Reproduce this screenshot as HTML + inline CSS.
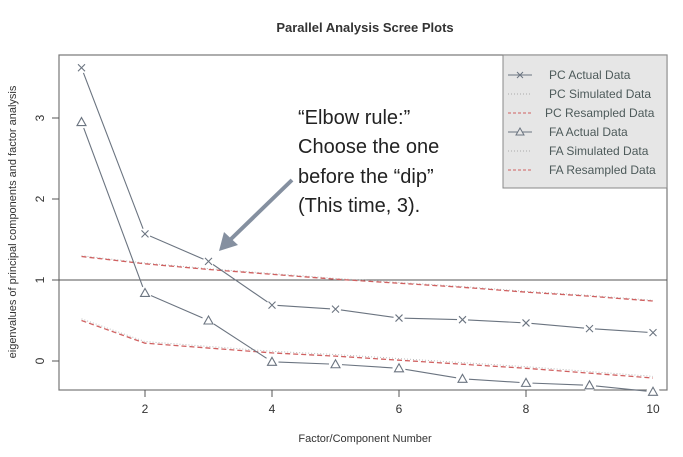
<!DOCTYPE html>
<html><head><meta charset="utf-8"><style>
body{margin:0;background:#fff;}
svg{display:block;font-family:"Liberation Sans",sans-serif;}
</style></head><body>
<svg width="683" height="457">
<text x="365" y="32" text-anchor="middle" font-size="13" font-weight="bold" fill="#333">Parallel Analysis Scree Plots</text>
<rect x="59" y="55" width="608" height="335" fill="none" stroke="#777" stroke-width="1.2"/>
<text transform="translate(16,222) rotate(-90)" text-anchor="middle" font-size="11" fill="#333">eigenvalues of principal components and factor analysis</text>
<text x="365" y="442" text-anchor="middle" font-size="11" fill="#333">Factor/Component Number</text>
<g id="axes"></g>
<g id="marks"></g>
<g>
<rect x="503" y="55" width="164" height="133" fill="#e6e6e6" stroke="#888"/>
<g id="legend-items"></g>
</g>
<g>
<text font-size="20" fill="#222">
<tspan x="298" y="124">“Elbow rule:”</tspan>
<tspan x="298" y="153">Choose the one</tspan>
<tspan x="298" y="183">before the “dip”</tspan>
<tspan x="298" y="212">(This time, 3).</tspan>
</text>
<line x1="292" y1="180" x2="230" y2="240" stroke="#8590a0" stroke-width="4"/>
<polygon points="219,251 224,232 238,245" fill="#8590a0"/>
</g>
</svg>
<script>
const factors=[1,2,3,4,5,6,7,8,9,10];
const pcActual=[3.62,1.57,1.23,0.69,0.64,0.53,0.51,0.47,0.40,0.35];
const faActual=[2.95,0.84,0.50,-0.01,-0.04,-0.09,-0.22,-0.27,-0.30,-0.38];
const pcResampled=[1.29,1.20,1.13,1.07,1.01,0.96,0.91,0.85,0.80,0.74];
const faResampled=[0.50,0.22,0.16,0.10,0.06,0.01,-0.04,-0.09,-0.15,-0.21];
const xTicks=[2,4,6,8,10];
const yTicks=[0,1,2,3];
const X=v=>81.5+(v-1)*63.5;
const Y=v=>361-v*81;
const NS='http://www.w3.org/2000/svg';
function mk(tag,attrs,parent){const e=document.createElementNS(NS,tag);for(const k in attrs)e.setAttribute(k,attrs[k]);parent.appendChild(e);return e;}
const axes=document.getElementById('axes'),marks=document.getElementById('marks');
xTicks.forEach(t=>{
 const l=mk('line',{x1:X(t),x2:X(t),y1:390,y2:397,stroke:'#555'},axes);
 
 
 const tx=mk('text',{x:X(t),y:413,'text-anchor':'middle','font-size':12,fill:'#333'},axes);tx.textContent=t;
 
 
});
yTicks.forEach(t=>{
 const l=mk('line',{x1:52,x2:59,y1:Y(t),y2:Y(t),stroke:'#555'},axes);
 
 
 const tx=mk('text',{transform:`translate(44,${Y(t)}) rotate(-90)`,'text-anchor':'middle','font-size':12,fill:'#333'},axes);tx.textContent=t;
 
 
});
const ref=mk('line',{x1:59,x2:667,y1:Y(1),y2:Y(1),stroke:'#555'},axes);


function pts(a){return a.map((v,i)=>X(factors[i])+','+Y(v)).join(' ');}
function series(a,name,style){const p=mk('polyline',Object.assign({points:pts(a),fill:'none'},style),marks);
 
 }
series(pcResampled.map(v=>v+0.01),'pc-simulated-line',{stroke:'#bbb','stroke-dasharray':'1 2'});
series(faResampled.map(v=>v+0.02),'fa-simulated-line',{stroke:'#bbb','stroke-dasharray':'1 2'});
series(pcResampled,'pc-resampled-line',{stroke:'#d06060','stroke-dasharray':'5 3','stroke-width':1.3});
series(faResampled,'fa-resampled-line',{stroke:'#d06060','stroke-dasharray':'5 3','stroke-width':1.3});
series(pcActual,'pc-actual-line',{stroke:'#6b7480','stroke-width':1.1});
series(faActual,'fa-actual-line',{stroke:'#6b7480','stroke-width':1.1});
pcActual.forEach((v,i)=>{const x=X(factors[i]),y=Y(v);
 mk('circle',{cx:x,cy:y,r:5.5,fill:'#fff'},marks);
 const p=mk('path',{d:`M${x-3.5},${y-3.5}L${x+3.5},${y+3.5}M${x-3.5},${y+3.5}L${x+3.5},${y-3.5}`,stroke:'#6b7480','stroke-width':1.1},marks);
 
 });
faActual.forEach((v,i)=>{const x=X(factors[i]),y=Y(v);
 mk('circle',{cx:x,cy:y,r:6.5,fill:'#fff'},marks);
 const p=mk('polygon',{points:`${x},${y-4.5} ${x-4.5},${y+3.5} ${x+4.5},${y+3.5}`,fill:'#fff',stroke:'#6b7480','stroke-width':1.1},marks);
 
 });
const legendLabels=['PC  Actual Data','PC  Simulated Data','PC  Resampled Data','FA  Actual Data','FA  Simulated Data','FA  Resampled Data'];
const lg=document.getElementById('legend-items');
const lstyles=[{stroke:'#6b7480'},{stroke:'#aaa','stroke-dasharray':'1 2'},{stroke:'#d06060','stroke-dasharray':'3 2'},{stroke:'#6b7480'},{stroke:'#aaa','stroke-dasharray':'1 2'},{stroke:'#d06060','stroke-dasharray':'3 2'}];
legendLabels.forEach((s,i)=>{const y=75+i*19;
 const l=mk('line',Object.assign({x1:508,x2:532,y1:y,y2:y},lstyles[i]),lg);
 
 
 if(i==0)mk('path',{d:`M517,${y-3}L523,${y+3}M517,${y+3}L523,${y-3}`,stroke:'#6b7480'},lg);
 if(i==3)mk('polygon',{points:`520,${y-4} 516,${y+3} 524,${y+3}`,fill:'#e6e6e6',stroke:'#6b7480'},lg);
 const t=mk('text',{x:i==2?545:549,y:y+4,'font-size':12,fill:'#4d5a5a'},lg);t.textContent=s;
 
 });
</script>
</body></html>
